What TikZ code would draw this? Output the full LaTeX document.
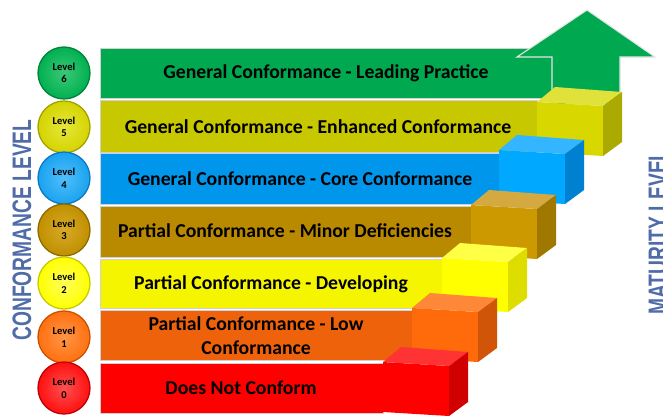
\documentclass[tikz,border=0pt]{standalone}
\usepackage{fontspec}
\setmainfont{Carlito}
\newfontfamily\arialfont{Liberation Sans}
\usepackage{tikz}

\definecolor{green6}{RGB}{0,168,80}
\definecolor{olive5}{RGB}{200,200,0}
\definecolor{blue4}{RGB}{0,150,235}
\definecolor{gold3}{RGB}{185,138,0}
\definecolor{yellow2}{RGB}{245,245,0}
\definecolor{orange1}{RGB}{238,98,12}
\definecolor{red0}{RGB}{255,0,0}
\definecolor{sideblue}{RGB}{79,108,168}

\begin{document}
\begin{tikzpicture}[x=0.025cm, y=-0.025cm,
    bar/.style={draw=white!82!black, line width=0.5pt},
    bartext/.style={font=\bfseries\fontsize{14}{17}\selectfont, align=center},
    lvl/.style={circle, minimum size=1.3cm, inner sep=0pt, line width=0.9pt, text width=1cm,
        font=\bfseries\fontsize{7.5}{9}\selectfont, align=center},
    sidetext/.style={rotate=90, text=sideblue, font=\arialfont\bfseries\fontsize{19}{20}\selectfont}]
    \useasboundingbox (0,0) rectangle (663,416);

    % level 6 bar with arrow
    \fill [green6, bar] (100,48) rectangle (560,98);
    \fill [green6, draw=white!90!black, line width=0.8pt] (552,104) -- (552,57) -- (517,57) -- (587,10)
        -- (655,57) -- (620,57) -- (620,104);
    \node [bartext] (t6) at (326,73) {General Conformance - Leading Practice};

    % level 5
    \fill [olive5, bar] (100,100) rectangle (537,152);
    \fill [fill={rgb,255:red,216;green,216;blue,0}] (537,102) -- ++(66,4) -- ++(0,50) -- ++(-66,-4) -- cycle;
    \fill [fill={rgb,255:red,225;green,225;blue,60}] (537,102) -- ++(66,4) -- ++(19,-14) -- ++(-67,-5) -- cycle;
    \fill [fill={rgb,255:red,170;green,170;blue,0}] (603,106) -- ++(19,-14) -- ++(0,50) -- ++(-19,14) -- cycle;
    \node [bartext] (t5) at (318,127) {General Conformance - Enhanced Conformance};

    % level 4
    \fill [blue4, bar] (100,153) rectangle (499,204);
    \fill [fill={rgb,255:red,0;green,168;blue,255}] (499,150) -- ++(66,4) -- ++(0,50) -- ++(-66,-4) -- cycle;
    \fill [fill={rgb,255:red,51;green,181;blue,255}] (499,150) -- ++(66,4) -- ++(19,-14) -- ++(-67,-5) -- cycle;
    \fill [fill={rgb,255:red,0;green,128;blue,208}] (565,154) -- ++(19,-14) -- ++(0,50) -- ++(-19,14) -- cycle;
    \node [bartext] (t4) at (300,179) {General Conformance - Core Conformance};

    % level 3
    \fill [gold3, bar] (100,206) rectangle (471,257);
    \fill [fill={rgb,255:red,204;green,153;blue,0}] (471,205) -- ++(66,4) -- ++(0,50) -- ++(-66,-4) -- cycle;
    \fill [fill={rgb,255:red,212;green,170;blue,64}] (471,205) -- ++(66,4) -- ++(19,-14) -- ++(-67,-5) -- cycle;
    \fill [fill={rgb,255:red,160;green,120;blue,0}] (537,209) -- ++(19,-14) -- ++(0,50) -- ++(-19,14) -- cycle;
    \node [bartext] (t3) at (285,231) {Partial Conformance - Minor Deficiencies};

    % level 2
    \fill [yellow2, bar] (100,259) rectangle (442,308);
    \fill [fill={rgb,255:red,255;green,255;blue,0}] (442,258) -- ++(66,4) -- ++(0,50) -- ++(-66,-4) -- cycle;
    \fill [fill={rgb,255:red,255;green,255;blue,70}] (442,258) -- ++(66,4) -- ++(19,-14) -- ++(-67,-5) -- cycle;
    \fill [fill={rgb,255:red,221;green,221;blue,0}] (508,262) -- ++(19,-14) -- ++(0,50) -- ++(-19,14) -- cycle;
    \node [bartext] (t2) at (271,284) {Partial Conformance - Developing};

    % level 1
    \fill [orange1, bar] (100,310) rectangle (412,360);
    \fill [fill={rgb,255:red,255;green,106;blue,10}] (412,308) -- ++(66,4) -- ++(0,50) -- ++(-66,-4) -- cycle;
    \fill [fill={rgb,255:red,255;green,136;blue,56}] (412,308) -- ++(66,4) -- ++(19,-14) -- ++(-67,-5) -- cycle;
    \fill [fill={rgb,255:red,208;green,85;blue,8}] (478,312) -- ++(19,-14) -- ++(0,50) -- ++(-19,14) -- cycle;
    \node [bartext] (t1) at (256,336) {Partial Conformance - Low\\Conformance};

    % level 0
    \fill [red0, bar] (100,363) rectangle (383,413);
    \fill [fill={rgb,255:red,255;green,0;blue,0}] (383,362) -- ++(66,4) -- ++(0,50) -- ++(-66,-4) -- cycle;
    \fill [fill={rgb,255:red,255;green,51;blue,51}] (383,362) -- ++(66,4) -- ++(19,-14) -- ++(-67,-5) -- cycle;
    \fill [fill={rgb,255:red,208;green,0;blue,0}] (449,366) -- ++(19,-14) -- ++(0,50) -- ++(-19,14) -- cycle;
    \node [bartext] (t0) at (241,388) {Does Not Conform};

    % level circles
    \node [lvl, inner color={rgb,255:red,60;green,200;blue,120}, outer color={rgb,255:red,0;green,176;blue,80}, draw={rgb,255:red,0;green,130;blue,60}] (c6) at (64,73) {Level\\6};
    \node [lvl, inner color={rgb,255:red,230;green,230;blue,60}, outer color={rgb,255:red,212;green,212;blue,0}, draw={rgb,255:red,160;green,160;blue,0}] (c5) at (64,127) {Level\\5};
    \node [lvl, inner color={rgb,255:red,80;green,190;blue,250}, outer color={rgb,255:red,26;green,163;blue,240}, draw={rgb,255:red,10;green,120;blue,190}] (c4) at (64,178) {Level\\4};
    \node [lvl, inner color={rgb,255:red,215;green,170;blue,40}, outer color={rgb,255:red,192;green,144;blue,0}, draw={rgb,255:red,140;green,105;blue,0}] (c3) at (64,230) {Level\\3};
    \node [lvl, inner color={rgb,255:red,255;green,255;blue,90}, outer color={rgb,255:red,255;green,255;blue,0}, draw={rgb,255:red,200;green,200;blue,0}] (c2) at (64,283) {Level\\2};
    \node [lvl, inner color={rgb,255:red,255;green,150;blue,70}, outer color={rgb,255:red,255;green,112;blue,16}, draw={rgb,255:red,200;green,80;blue,0}] (c1) at (64,337) {Level\\1};
    \node [lvl, inner color={rgb,255:red,255;green,80;blue,80}, outer color={rgb,255:red,255;green,16;blue,16}, draw={rgb,255:red,190;green,0;blue,0}] (c0) at (64,388) {Level\\0};

    % side labels
    \node [sidetext] (conf) at (22,230) {\scalebox{0.72}[1]{CONFORMANCE LEVEL}};
    \node [sidetext] (mat) at (658,232) {\scalebox{0.72}[1]{MATURITY LEVEL}};
\end{tikzpicture}
\end{document}
